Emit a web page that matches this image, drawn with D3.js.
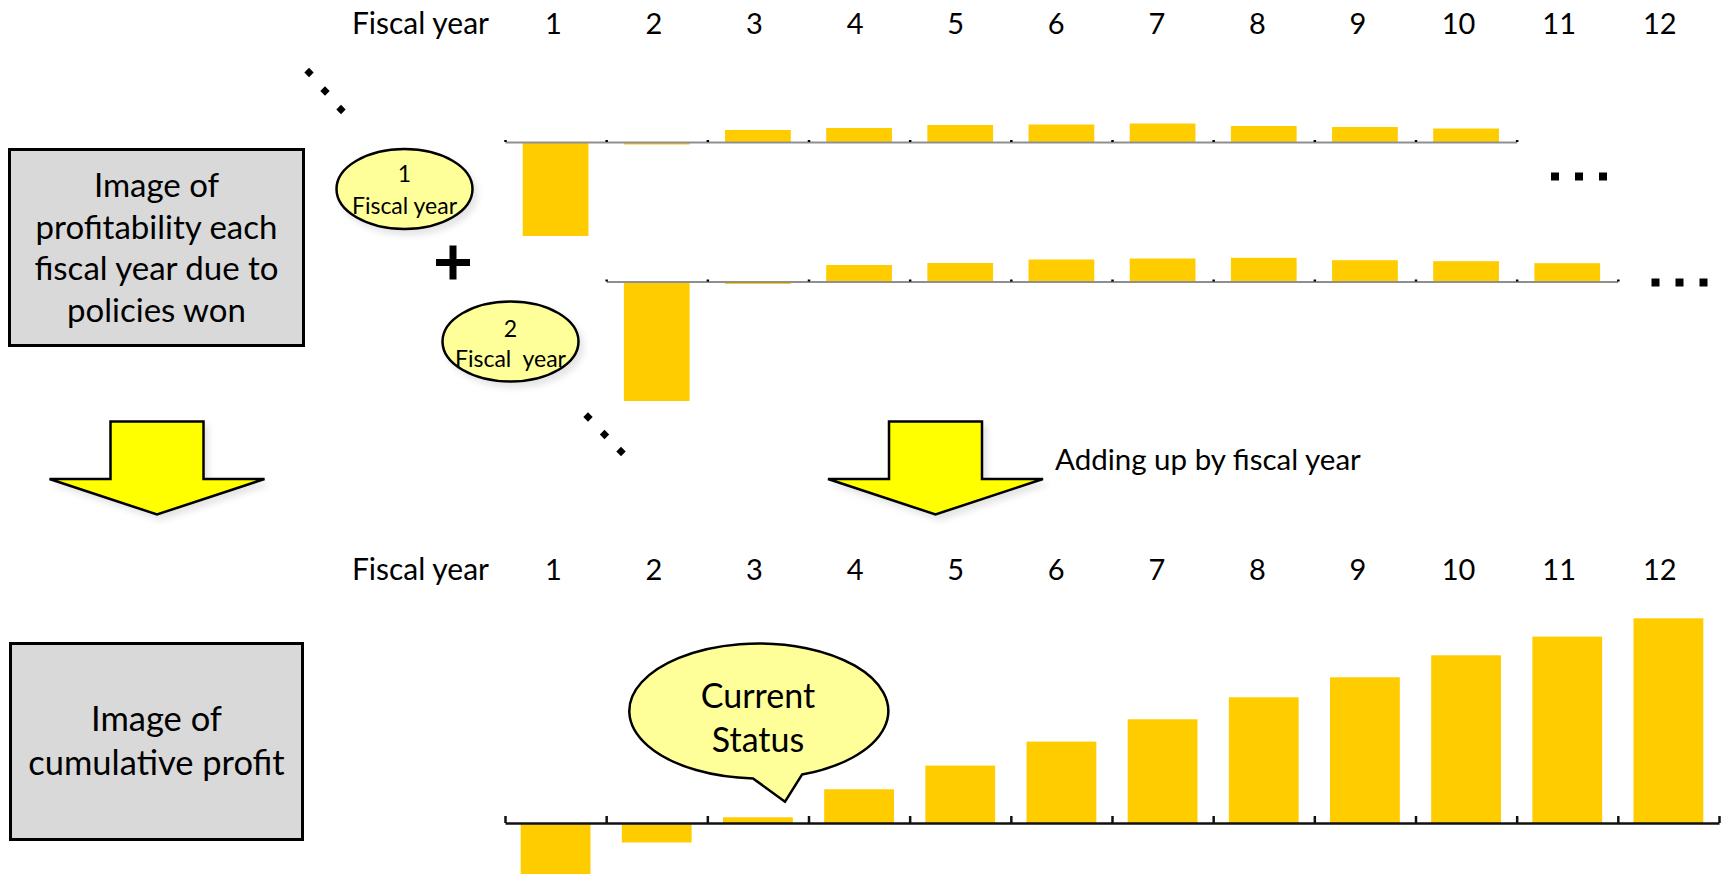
<!DOCTYPE html>
<html>
<head>
<meta charset="utf-8">
<script src="https://cdn.jsdelivr.net/npm/d3@7/dist/d3.min.js"></script>
<style>
  html, body { margin: 0; padding: 0; background: #fff; }
  svg { display: block; font-family: Lato, "Open Sans", sans-serif; }
</style>
</head>
<body>
<svg id="chart" width="1723" height="874"></svg>
<script>
// ---- data -------------------------------------------------------------
const fiscalYears = [1, 2, 3, 4, 5, 6, 7, 8, 9, 10, 11, 12];

// yearly profit from policies won in fiscal year 1
const cohort1Years  = [1, 2, 3, 4, 5, 6, 7, 8, 9, 10];
const cohort1Profit = [-9.4, -0.25, 1.2, 1.4, 1.7, 1.75, 1.85, 1.6, 1.5, 1.35];

// yearly profit from policies won in fiscal year 2
const cohort2Years  = [2, 3, 4, 5, 6, 7, 8, 9, 10, 11];
const cohort2Profit = [-11.95, -0.25, 1.65, 1.85, 2.2, 2.3, 2.37, 2.13, 2.03, 1.83];

// cumulative profit by fiscal year
const cumulativeProfit = [-6.0, -1.95, 0.57, 3.37, 5.74, 8.14, 10.37, 12.57, 14.57, 16.77, 18.64, 20.47];

const headerLabel = "Fiscal year";
const BAR = "#ffcc00";

// ---- canvas -------------------------------------------------------------
const svg = d3.select("#chart");
const defs = svg.append("defs");
const shadow = defs.append("filter").attr("id", "soft-shadow")
  .attr("x", "-20%").attr("y", "-20%").attr("width", "150%").attr("height", "150%");
shadow.append("feDropShadow").attr("dx", 4).attr("dy", 5).attr("stdDeviation", 3)
  .attr("flood-color", "#000").attr("flood-opacity", 0.10);

// ---- scales -------------------------------------------------------------
const plotLeft = 505, plotRight = 1719;
const xBottom = d3.scaleBand().domain(fiscalYears).range([plotLeft, plotRight])
  .paddingInner(0.31).paddingOuter(0.155);
const xTop = d3.scaleBand().domain(fiscalYears).range([plotLeft, plotRight])
  .paddingInner(0.35).paddingOuter(0.175);
const xEdge = d3.scaleLinear().domain([0, 12]).range([plotLeft, plotRight]);
const xHeader = d3.scaleBand().domain(fiscalYears).range([503, 1710]);

const yRow = d3.scaleLinear().domain([-12, 3]).range([120, -30]);   // relative to row baseline
const yCum = d3.scaleLinear().domain([-6, 21]).range([60, -210]);   // relative to baseline

// ---- header rows ---------------------------------------------------------
function header(yBase) {
  const g = svg.append("g").attr("transform", `translate(0,${yBase})`)
    .call(d3.axisTop(xHeader).tickSize(0).tickPadding(0));
  g.select(".domain").remove();
  g.selectAll("text").attr("font-family", "Lato, sans-serif").attr("font-size", 29)
    .attr("fill", "#000");
  svg.append("text").attr("x", 489).attr("y", yBase).attr("text-anchor", "end")
    .attr("font-size", 30).attr("fill", "#000").text(headerLabel);
}
header(33.5);
header(580);

// ---- per-cohort rows -----------------------------------------------------
function cohortRow(years, values, yBase, firstEdge) {
  const g = svg.append("g").attr("transform", `translate(0,${yBase})`);
  g.selectAll("rect").data(years.map((y, i) => ({ year: y, v: values[i] })))
    .join("rect")
    .attr("x", d => xTop(d.year))
    .attr("width", xTop.bandwidth())
    .attr("y", d => Math.min(yRow(d.v), yRow(0)))
    .attr("height", d => Math.abs(yRow(d.v) - yRow(0)))
    .attr("fill", BAR);
  const edge = xEdge.copy().domain([firstEdge, firstEdge + years.length])
    .range([xEdge(firstEdge), xEdge(firstEdge + years.length)]);
  const ax = g.append("g")
    .call(d3.axisBottom(edge).tickValues(d3.range(firstEdge, firstEdge + years.length + 1))
      .tickSizeInner(-2).tickSizeOuter(0).tickFormat(""));
  ax.select(".domain").attr("stroke", "#8f8f8f").attr("stroke-width", 2);
  ax.selectAll(".tick line").attr("stroke", "#000").attr("stroke-width", 2.5);
}
cohortRow(cohort1Years, cohort1Profit, 142, 0);
cohortRow(cohort2Years, cohort2Profit, 281.5, 1);

// ---- cumulative chart ----------------------------------------------------
const gCum = svg.append("g").attr("transform", "translate(0,823)");
gCum.selectAll("rect").data(fiscalYears.map((y, i) => ({ year: y, v: cumulativeProfit[i] })))
  .join("rect")
  .attr("x", d => xBottom(d.year))
  .attr("width", xBottom.bandwidth())
  .attr("y", d => Math.min(yCum(d.v), yCum(0)))
  .attr("height", d => Math.abs(yCum(d.v) - yCum(0)))
  .attr("fill", BAR);
const axCum = gCum.append("g")
  .call(d3.axisBottom(xEdge).tickValues(d3.range(0, 13))
    .tickSizeInner(-7).tickSizeOuter(0).tickFormat(""));
axCum.select(".domain").attr("stroke", "#111").attr("stroke-width", 2.5);
axCum.selectAll(".tick line").attr("stroke", "#111").attr("stroke-width", 2.5);

// ---- grey caption boxes ---------------------------------------------------
function captionBox(x, y, w, h, lines, baselines, size) {
  svg.append("rect").attr("x", x).attr("y", y).attr("width", w).attr("height", h)
    .attr("fill", "#d9d9d9").attr("stroke", "#000").attr("stroke-width", 3);
  svg.append("g").selectAll("text").data(lines).join("text")
    .attr("x", x + w / 2).attr("y", (d, i) => baselines[i])
    .attr("text-anchor", "middle").attr("font-size", size).attr("fill", "#000")
    .text(d => d);
}
captionBox(9.5, 149.5, 294, 196,
  ["Image of", "profitability each", "fiscal year due to", "policies won"],
  [197, 238.5, 280, 321.5], 33);
captionBox(10.5, 643.5, 292, 196,
  ["Image of", "cumulative profit"], [731, 775], 34.5);

// ---- cohort tags ---------------------------------------------------------
function tag(cx, cy, num, label, numBase, labelBase) {
  svg.append("ellipse").attr("cx", cx).attr("cy", cy).attr("rx", 68).attr("ry", 40)
    .attr("fill", "#ffff99").attr("stroke", "#000").attr("stroke-width", 2.5)
    .attr("filter", "url(#soft-shadow)");
  svg.append("text").attr("x", cx).attr("y", numBase).attr("text-anchor", "middle")
    .attr("font-size", 23).text(num);
  svg.append("text").attr("x", cx).attr("y", labelBase).attr("text-anchor", "middle")
    .attr("font-size", 23).style("white-space", "pre").text(label);
}
tag(404.5, 189, "1", "Fiscal year", 181.5, 214);
tag(510.5, 341.5, "2", "Fiscal  year", 336.5, 366.5);

// plus sign between the two cohorts
svg.append("path").attr("d", "M436,262.5H470M453,245.5V279.5")
  .attr("stroke", "#000").attr("stroke-width", 7);

// continuation marks
const diamond = d3.symbol(d3.symbolSquare, 44);
[[309, 72.5], [325, 91], [341, 109.5], [588, 417], [604.5, 434.5], [621, 451.5]].forEach(([cx, cy]) => {
  svg.append("path").attr("d", diamond())
    .attr("transform", `translate(${cx},${cy}) rotate(45)`).attr("fill", "#000");
});
const square = d3.symbol(d3.symbolSquare, 64);
[[1555, 176.5], [1579, 176.5], [1603, 176.5], [1655.5, 282.5], [1679.5, 282.5], [1703.5, 282.5]]
  .forEach(([cx, cy]) => {
    svg.append("path").attr("d", square()).attr("transform", `translate(${cx},${cy})`).attr("fill", "#000");
  });

// ---- block arrows ---------------------------------------------------------
function blockArrow(cx) {
  const shaftHalf = 46.5, headHalf = 107.5, top = 421.5, shoulder = 479, tip = 514.5;
  const pts = [[cx - shaftHalf, top], [cx + shaftHalf, top], [cx + shaftHalf, shoulder],
    [cx + headHalf, shoulder], [cx, tip], [cx - headHalf, shoulder], [cx - shaftHalf, shoulder]];
  svg.append("path").attr("d", d3.line()(pts) + "Z")
    .attr("fill", "#ffff00").attr("stroke", "#000").attr("stroke-width", 2.5)
    .attr("stroke-linejoin", "miter").attr("filter", "url(#soft-shadow)");
}
blockArrow(157);
blockArrow(935.5);

svg.append("text").attr("x", 1055).attr("y", 470).attr("font-size", 29.5).text("Adding up by fiscal year");

// ---- "Current Status" callout --------------------------------------------
svg.append("path")
  .attr("d", "M753,778.4 A129.5,67.5 0 1 1 802,774.6 L785,801.7 Z")
  .attr("fill", "#ffff99").attr("stroke", "#000").attr("stroke-width", 2.5)
  .attr("stroke-linejoin", "miter");
svg.append("text").attr("x", 758).attr("y", 708).attr("text-anchor", "middle")
  .attr("font-size", 34).text("Current");
svg.append("text").attr("x", 758).attr("y", 751.5).attr("text-anchor", "middle")
  .attr("font-size", 34).text("Status");
</script>
</body>
</html>
